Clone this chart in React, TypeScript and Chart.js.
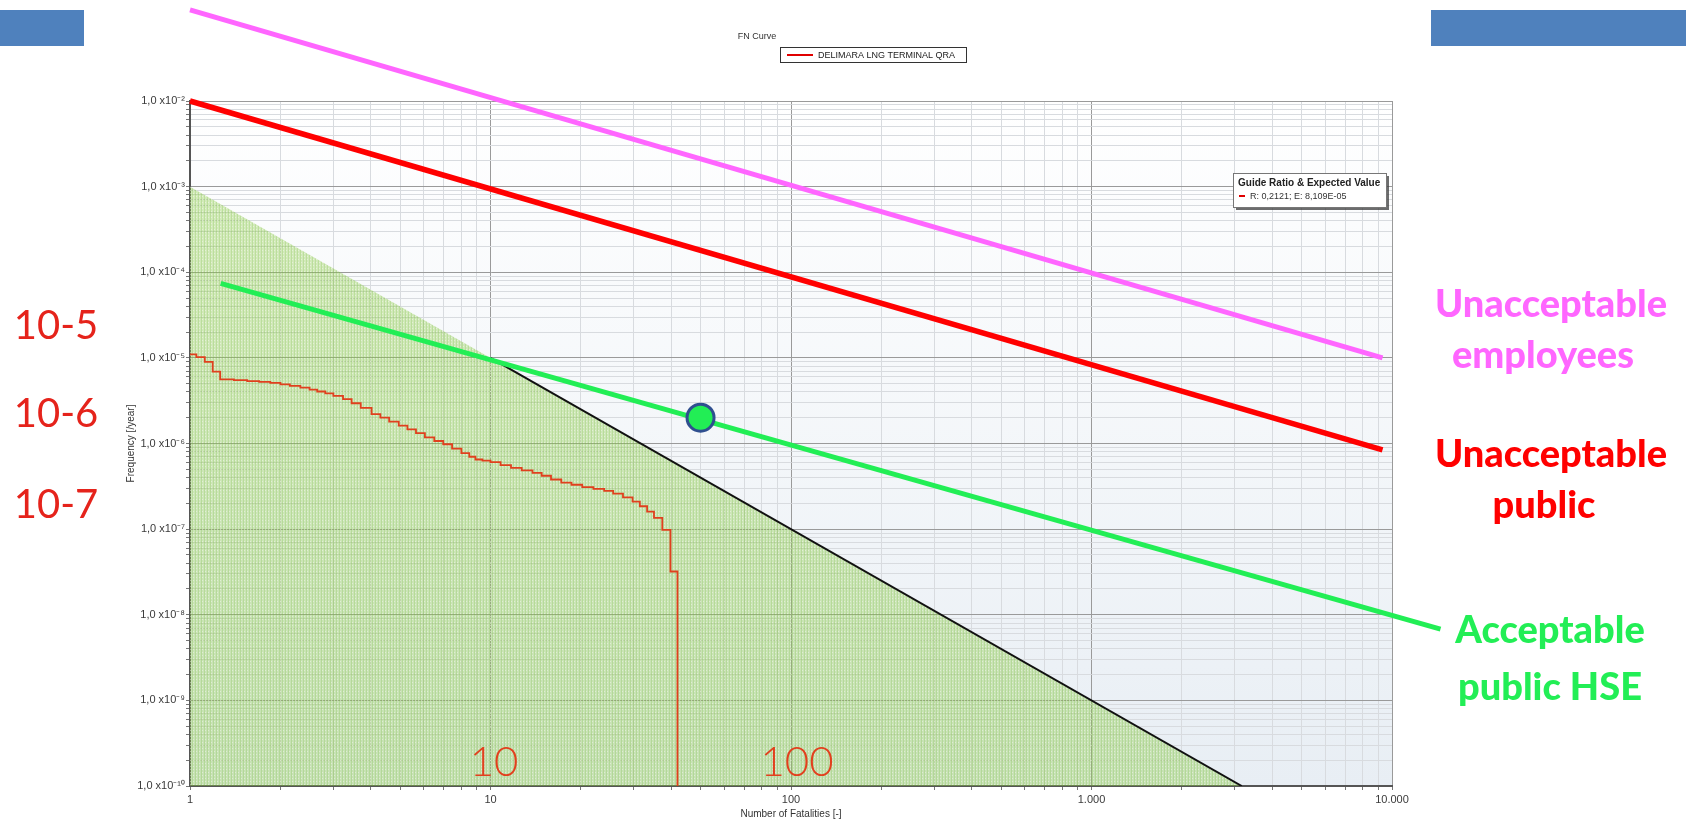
import React, { useEffect, useRef } from 'react';
import { Chart, registerables } from 'chart.js';

Chart.register(...registerables);

// ---- Data ----
const fnFatalities = [1, 1.05, 1.12, 1.19, 1.26, 1.4, 1.55, 1.7, 1.85, 2.0, 2.15, 2.33, 2.5, 2.65, 2.82, 3.0, 3.23, 3.45, 3.7, 4.02, 4.3, 4.6, 4.95, 5.29, 5.65, 6.05, 6.5, 6.96, 7.45, 8.0, 8.5, 8.91, 9.4, 10.0, 10.8, 11.7, 12.7, 13.8, 14.8, 15.9, 17.2, 18.6, 20.2, 22.0, 23.9, 25.6, 27.6, 29.7, 31.4, 33.2, 35.0, 37.3, 39.7, 41.9];
const fnFrequency = [1.1e-5, 1.02e-5, 9.0e-6, 6.9e-6, 5.6e-6, 5.5e-6, 5.35e-6, 5.25e-6, 5.1e-6, 4.9e-6, 4.7e-6, 4.5e-6, 4.25e-6, 4.05e-6, 3.85e-6, 3.6e-6, 3.3e-6, 2.95e-6, 2.6e-6, 2.2e-6, 2.0e-6, 1.8e-6, 1.62e-6, 1.46e-6, 1.32e-6, 1.18e-6, 1.07e-6, 9.8e-7, 8.7e-7, 7.7e-7, 7.0e-7, 6.5e-7, 6.3e-7, 6.05e-7, 5.6e-7, 5.2e-7, 4.85e-7, 4.55e-7, 4.2e-7, 3.8e-7, 3.5e-7, 3.3e-7, 3.1e-7, 2.95e-7, 2.8e-7, 2.6e-7, 2.35e-7, 2.1e-7, 1.85e-7, 1.6e-7, 1.35e-7, 9.8e-8, 3.2e-8, 1.0e-10];

const employeesLineN = [1, 9300];
const employeesLineF = [0.116, 1.0e-5];
const publicLineN = [1, 9300];
const publicLineF = [1e-2, 8.4e-7];
const hseLineN = [1.265, 14500];
const hseLineF = [7.4e-5, 6.8e-9];
const markerN = [50];
const markerF = [2e-6];
const zoneN = [1, 3162];
const zoneF = [1e-3, 1e-10];
const limitN = [10, 3162];
const limitF = [1e-5, 1e-10];

const xMajorLabels = ['1', '10', '100', '1.000', '10.000'];
const xExpRange = [0, 4];
const yExpRange = [-10, -2];

const legendLabel = 'DELIMARA LNG TERMINAL QRA';
const chartTitle = 'FN Curve';
const guideTitle = 'Guide Ratio & Expected Value';
const guideText = 'R: 0,2121; E: 8,109E-05';
const leftNotes = ['10-5', '10-6', '10-7'];
const bottomNotes = ['10', '100'];

const SUP: Record<string, string> = { '-': '\u207B', '0': '\u2070', '1': '\u00B9', '2': '\u00B2', '3': '\u00B3', '4': '\u2074', '5': '\u2075', '6': '\u2076', '7': '\u2077', '8': '\u2078', '9': '\u2079' };
const sup = (n: number) => String(n).split('').map((c) => SUP[c] || c).join('');

const zip = (xs: number[], ys: number[]) => xs.map((x, i) => ({ x, y: ys[i] }));

const isDecade = (v: number) => {
  const e = Math.log10(v);
  return Math.abs(e - Math.round(e)) < 1e-9;
};

function logTicks(minExp: number, maxExp: number) {
  const t: { value: number; major: boolean }[] = [];
  for (let e = minExp; e < maxExp; e++) {
    for (let m = 1; m <= 9; m++) t.push({ value: parseFloat(`${m}e${e}`), major: m === 1 });
  }
  t.push({ value: parseFloat(`1e${maxExp}`), major: true });
  return t;
}

function makePattern(): CanvasPattern | string {
  const c = document.createElement('canvas');
  c.width = 3;
  c.height = 3;
  const p = c.getContext('2d');
  if (!p) return 'rgba(140,200,70,0.4)';
  p.fillStyle = 'rgba(145,205,75,0.38)';
  p.fillRect(0, 0, 3, 3);
  p.fillStyle = 'rgba(110,180,50,0.22)';
  p.fillRect(0, 0, 1, 3);
  p.fillStyle = 'rgba(255,255,255,0.4)';
  p.fillRect(1, 1, 1, 1);
  const pat = p.createPattern(c, 'repeat');
  return pat || 'rgba(140,200,70,0.4)';
}

const decorPlugin = {
  id: 'decor',
  beforeDraw(chart: any) {
    const { ctx, chartArea: a } = chart;
    ctx.save();
    ctx.fillStyle = '#ffffff';
    ctx.fillRect(0, 0, chart.width, chart.height);
    const g = ctx.createLinearGradient(0, a.top, 0, a.bottom);
    g.addColorStop(0, '#ffffff');
    g.addColorStop(1, '#e8eef4');
    ctx.fillStyle = g;
    ctx.fillRect(a.left, a.top, a.right - a.left, a.bottom - a.top);
    ctx.restore();
  },
  afterDraw(chart: any) {
    const { ctx, chartArea: a } = chart;
    ctx.save();
    // slide decorations
    ctx.fillStyle = '#4F81BD';
    ctx.fillRect(0, 10, 84, 36);
    ctx.fillRect(1431, 10, 255, 36);

    // chart title
    ctx.fillStyle = '#333';
    ctx.font = '9px "Liberation Sans", Arial, sans-serif';
    ctx.textAlign = 'center';
    ctx.textBaseline = 'middle';
    ctx.fillText(chartTitle, 757, 37);

    // legend
    ctx.fillStyle = '#ffffff';
    ctx.fillRect(780, 47, 186, 15);
    ctx.strokeStyle = '#333';
    ctx.lineWidth = 1;
    ctx.strokeRect(780.5, 47.5, 186, 15);
    ctx.strokeStyle = '#E00000';
    ctx.lineWidth = 2;
    ctx.beginPath();
    ctx.moveTo(787, 55);
    ctx.lineTo(813, 55);
    ctx.stroke();
    ctx.fillStyle = '#222';
    ctx.textAlign = 'left';
    ctx.fillText(legendLabel, 818, 55.5);

    // guide box
    const bx = a.right - 159, by = a.top + 72, bw = 153, bh = 34;
    ctx.fillStyle = 'rgba(60,60,60,0.75)';
    ctx.fillRect(bx + 3, by + 3, bw, bh);
    ctx.fillStyle = '#ffffff';
    ctx.fillRect(bx, by, bw, bh);
    ctx.strokeStyle = '#777';
    ctx.lineWidth = 1;
    ctx.strokeRect(bx + 0.5, by + 0.5, bw, bh);
    ctx.fillStyle = '#222';
    ctx.font = 'bold 10px "Liberation Sans", Arial, sans-serif';
    ctx.textBaseline = 'alphabetic';
    ctx.fillText(guideTitle, bx + 5, by + 13);
    ctx.strokeStyle = '#E00000';
    ctx.lineWidth = 2;
    ctx.beginPath();
    ctx.moveTo(bx + 6, by + 23);
    ctx.lineTo(bx + 12, by + 23);
    ctx.stroke();
    ctx.font = '9px "Liberation Sans", Arial, sans-serif';
    ctx.fillStyle = '#333';
    ctx.fillText(guideText, bx + 17, by + 26);

    // left notes
    ctx.fillStyle = '#E5231B';
    ctx.font = '40px Lato, "Open Sans", sans-serif';
    ctx.textAlign = 'center';
    ctx.fillText(leftNotes[0], 56, 339);
    ctx.fillText(leftNotes[1], 56, 427);
    ctx.fillText(leftNotes[2], 56, 518);

    // bottom notes
    ctx.fillStyle = '#E2401E';
    ctx.font = '300 42px Lato, "Open Sans", sans-serif';
    ctx.fillText(bottomNotes[0], 494, 776);
    ctx.fillText(bottomNotes[1], 797, 776);

    // right labels
    ctx.font = '900 38px Lato, "Open Sans", sans-serif';
    ctx.fillStyle = '#FF66FF';
    ctx.fillText('Unacceptable', 1551, 317, 232);
    ctx.fillText('employees', 1543, 368);
    ctx.fillStyle = '#FF0000';
    ctx.fillText('Unacceptable', 1551, 467, 232);
    ctx.fillText('public', 1544, 518);
    ctx.fillStyle = '#22EE55';
    ctx.fillText('Acceptable', 1550, 643);
    ctx.fillText('public HSE', 1550, 700);
    ctx.restore();
  },
};

export default function App() {
  const ref = useRef<HTMLCanvasElement | null>(null);

  useEffect(() => {
    if (!ref.current) return;
    const pattern = makePattern();
    const gridColor = (c: any) => (c.tick && isDecade(c.tick.value) ? '#9a9a9a' : '#d8dbdf');

    const chart = new Chart(ref.current, {
      type: 'line',
      data: {
        datasets: [
          {
            label: 'marker',
            data: zip(markerN, markerF),
            showLine: false,
            pointRadius: 13.5,
            pointBackgroundColor: '#22EE55',
            pointBorderColor: '#2F4F8F',
            pointBorderWidth: 3,
            clip: false,
          },
          {
            label: 'Acceptable public HSE',
            data: zip(hseLineN, hseLineF),
            borderColor: '#22EE55',
            borderWidth: 5,
            pointRadius: 0,
            clip: false,
          },
          {
            label: 'Unacceptable public',
            data: zip(publicLineN, publicLineF),
            borderColor: '#FF0000',
            borderWidth: 5.5,
            pointRadius: 0,
            clip: false,
          },
          {
            label: 'Unacceptable employees',
            data: zip(employeesLineN, employeesLineF),
            borderColor: '#FF66FF',
            borderWidth: 5,
            pointRadius: 0,
            clip: false,
          },
          {
            label: legendLabel,
            data: zip(fnFatalities, fnFrequency),
            borderColor: '#E0401E',
            borderWidth: 1.8,
            pointRadius: 0,
            stepped: 'before',
          },
          {
            label: 'limit',
            data: zip(limitN, limitF),
            borderColor: '#111111',
            borderWidth: 2,
            pointRadius: 0,
          },
          {
            label: 'zone',
            data: zip(zoneN, zoneF),
            borderWidth: 0,
            borderColor: 'rgba(0,0,0,0)',
            backgroundColor: pattern as any,
            fill: 'start',
            pointRadius: 0,
          },
        ],
      },
      options: {
        animation: false,
        responsive: false,
        events: [],
        layout: { padding: { left: 118, right: 294, top: 101, bottom: 0 } },
        plugins: {
          legend: { display: false },
          title: { display: false },
          tooltip: { enabled: false },
        },
        scales: {
          x: {
            type: 'logarithmic',
            min: 1,
            max: 10000,
            afterBuildTicks: (s: any) => { s.ticks = logTicks(xExpRange[0], xExpRange[1]); },
            afterFit: (s: any) => { s.height = 35; },
            ticks: {
              autoSkip: false,
              maxRotation: 0,
              padding: 3,
              color: '#3a3a3a',
              font: { family: '"Liberation Sans", Arial, sans-serif', size: 11 },
              callback: (v: any) => (isDecade(Number(v)) ? xMajorLabels[Math.round(Math.log10(Number(v)))] : ''),
            },
            grid: { color: gridColor, lineWidth: 1, drawTicks: true, tickLength: 4, tickColor: '#777' },
            border: { display: true, color: '#555', width: 2 },
            title: {
              display: true,
              text: 'Number of Fatalities [-]',
              color: '#333',
              font: { family: '"Liberation Sans", Arial, sans-serif', size: 10 },
              padding: { top: 0, bottom: 1 },
            },
          },
          y: {
            type: 'logarithmic',
            min: 1e-10,
            max: 1e-2,
            afterBuildTicks: (s: any) => { s.ticks = logTicks(yExpRange[0], yExpRange[1]); },
            afterFit: (s: any) => { s.width = 72; },
            ticks: {
              autoSkip: false,
              padding: 1,
              color: '#3a3a3a',
              font: { family: '"Liberation Sans", Arial, sans-serif', size: 11 },
              callback: (v: any) => {
                const n = Number(v);
                return isDecade(n) ? `1,0 x10${sup(Math.round(Math.log10(n)))}` : '';
              },
            },
            grid: { color: gridColor, lineWidth: 1, drawTicks: true, tickLength: 4, tickColor: '#777' },
            border: { display: true, color: '#555', width: 2 },
            title: {
              display: true,
              text: 'Frequency [/year]',
              color: '#333',
              font: { family: '"Liberation Sans", Arial, sans-serif', size: 10 },
              padding: { top: 7, bottom: 0 },
            },
          },
        },
      } as any,
      plugins: [decorPlugin],
    });
    return () => chart.destroy();
  }, []);

  return (
    <div style={{ position: 'absolute', left: 0, top: 0, width: 1686, height: 821, background: '#fff' }}>
      <canvas ref={ref} width={1686} height={821} style={{ display: 'block', width: 1686, height: 821 }} />
    </div>
  );
}
